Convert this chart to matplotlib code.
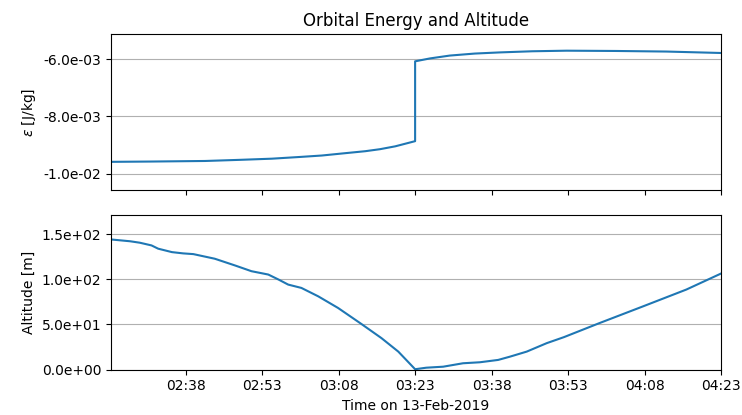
import matplotlib
matplotlib.use("Agg")
import matplotlib.pyplot as plt
import matplotlib.dates as mdates
import numpy as np
import pandas as pd

# minutes relative to 02:38 on 13-Feb-2019
t_ref = pd.Timestamp("2019-02-13 02:38")

energy_min = [-14.65, -7.0, 3.8, 10.7, 16.9, 22.4, 26.7, 31.2, 35.2, 38.1, 41.1, 45.0,
              45.0, 47.9, 51.8, 56.7, 61.6, 68.0, 74.7, 84.5, 94.3, 105.0]
energy = [-9.58e-3, -9.57e-3, -9.55e-3, -9.51e-3, -9.47e-3, -9.41e-3, -9.36e-3, -9.28e-3,
          -9.21e-3, -9.14e-3, -9.04e-3, -8.86e-3,
          -6.08e-3, -5.98e-3, -5.88e-3, -5.81e-3, -5.77e-3, -5.73e-3, -5.71e-3, -5.72e-3,
          -5.74e-3, -5.79e-3]

alt_min = [-14.65, -10.9, -9.0, -6.7, -5.4, -2.7, -0.5, 1.5, 5.7, 9.7, 12.9, 16.2, 18.2,
           20.1, 22.7, 26.0, 29.9, 34.5, 38.4, 41.7, 45.0, 47.2, 50.5, 54.4, 57.7, 61.3,
           63.6, 66.9, 70.8, 74.2, 81.2, 89.7, 98.2, 105.0]
altitude = [144, 142, 140.4, 137.4, 133.8, 130, 128.6, 127.8, 122.7, 115.2, 108.9, 105.2,
            99.7, 94.1, 90.4, 81.1, 68.2, 50.4, 34.9, 20, 0.5, 2.2, 3.3, 7.1, 8.2, 10.8,
            14.4, 20, 29.3, 36, 51.6, 70, 88.6, 106.3]

t_energy = t_ref + pd.to_timedelta(energy_min, unit="min")
t_alt = t_ref + pd.to_timedelta(alt_min, unit="min")

fig = plt.figure(figsize=(7.42, 4.15), dpi=100)
ax1 = fig.add_axes([0.1496, 0.5422, 0.8221, 0.3758])
ax2 = fig.add_axes([0.1496, 0.1092, 0.8221, 0.3735], sharex=ax1)

ax1.plot(t_energy, energy, color="C0")
ax1.set_ylim(-1.056e-2, -5.13e-3)
ax1.set_yticks([-1e-2, -8e-3, -6e-3])
ax1.yaxis.set_major_formatter(matplotlib.ticker.FormatStrFormatter("%.1e"))
ax1.set_ylabel(r"$\varepsilon$ [J/kg]")
ax1.set_title("Orbital Energy and Altitude")
ax1.grid(axis="y")
plt.setp(ax1.get_xticklabels(), visible=False)

ax2.plot(t_alt, altitude, color="C0")
ax2.set_ylim(0, 171.4)
ax2.set_yticks([0, 50, 100, 150])
ax2.yaxis.set_major_formatter(matplotlib.ticker.FormatStrFormatter("%.1e"))
ax2.set_ylabel("Altitude [m]")
ax2.set_xlabel("Time on 13-Feb-2019")
ax2.grid(axis="y")

ax2.set_xlim(t_alt[0], t_alt[-1])
ax2.xaxis.set_major_locator(mdates.MinuteLocator(byminute=[8, 23, 38, 53]))
ax2.xaxis.set_major_formatter(mdates.DateFormatter("%H:%M"))

fig.savefig("out.png", dpi=100)
